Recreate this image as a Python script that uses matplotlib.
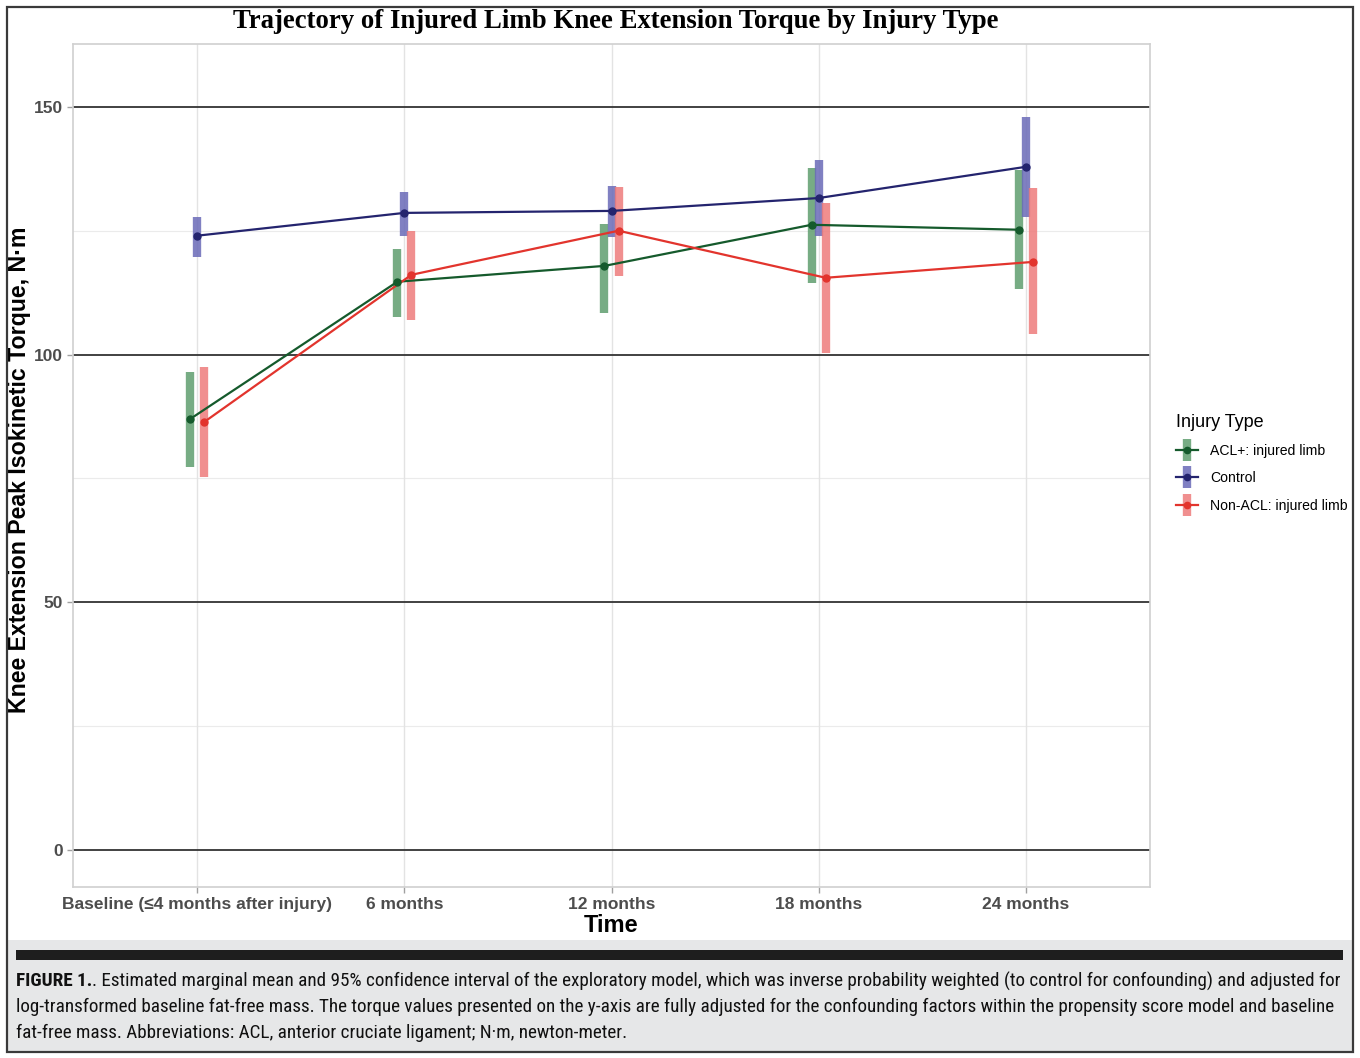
import matplotlib
matplotlib.use("Agg")
import matplotlib.pyplot as plt
from matplotlib.lines import Line2D
from matplotlib.patches import Rectangle
from matplotlib.legend_handler import HandlerTuple
from matplotlib import font_manager as fm
from matplotlib.font_manager import FontProperties
import numpy as np

# ---------------- data ----------------
time_labels = ["Baseline (\u22644 months after injury)", "6 months", "12 months", "18 months", "24 months"]
groups = ["ACL+: injured limb", "Control", "Non-ACL: injured limb"]

acl_mean = [87.0, 114.7, 117.9, 126.2, 125.2]
acl_low = [77.3, 107.6, 108.4, 114.5, 113.3]
acl_high = [96.5, 121.3, 126.4, 137.7, 137.3]

ctrl_mean = [124.0, 128.6, 129.0, 131.6, 137.9]
ctrl_low = [119.7, 124.0, 123.8, 124.0, 127.8]
ctrl_high = [127.8, 132.8, 134.1, 139.3, 148.0]

non_mean = [86.4, 116.1, 125.0, 115.5, 118.7]
non_low = [75.3, 107.0, 115.9, 100.3, 104.2]
non_high = [97.5, 125.0, 133.9, 130.6, 133.7]

y_ticks = [0, 50, 100, 150]

caption_bold = "FIGURE 1."
caption_lines = [
    ". Estimated marginal mean and 95% confidence interval of the exploratory model, which was inverse probability weighted (to control for confounding) and adjusted for",
    "log-transformed baseline fat-free mass. The torque values presented on the y-axis are fully adjusted for the confounding factors within the propensity score model and baseline",
    "fat-free mass. Abbreviations: ACL, anterior cruciate ligament; N\u00b7m, newton-meter.",
]

series = [
    (acl_mean, acl_low, acl_high, "#5f9e6e", "#155a2c", -0.034),
    (ctrl_mean, ctrl_low, ctrl_high, "#6a6ab8", "#24246e", 0.0),
    (non_mean, non_low, non_high, "#ee7b7b", "#e2342d", 0.034),
]

# ---------------- condensed font search ----------------
_stretch_map = {"ultra-condensed": 100, "extra-condensed": 200, "condensed": 300,
                "semi-condensed": 400, "normal": 500, "semi-expanded": 600,
                "expanded": 700, "extra-expanded": 800, "ultra-expanded": 900}
_weight_map = {"ultralight": 200, "light": 300, "normal": 400, "regular": 400, "book": 400,
               "medium": 500, "roman": 400, "semibold": 600, "demibold": 600, "demi": 600,
               "bold": 700, "heavy": 800, "extra bold": 800, "black": 900}


def _sv(f):
    s = f.stretch
    if isinstance(s, str):
        return _stretch_map.get(s, 500)
    return int(s)


def _wv(f):
    w = f.weight
    if isinstance(w, str):
        return _weight_map.get(w, 400)
    return int(w)


reg_path, bold_path = None, None
try:
    cands = [f for f in fm.fontManager.ttflist
             if f.style == "normal" and (_sv(f) < 500 or "Condensed" in f.name or "Narrow" in f.name)
             and "CJK" not in f.name and "Mono" not in f.name and "Serif" not in f.name]
    pref = ["Roboto Condensed", "Liberation Sans Narrow", "Open Sans Condensed", "Noto Sans",
            "DejaVu Sans", "Open Sans", "Lato", "Inter"]
    fams = sorted(set(f.name for f in cands),
                  key=lambda n: next((i for i, p in enumerate(pref) if n.startswith(p)), 99))
    if fams:
        fam = fams[0]
        ff = [f for f in cands if f.name == fam]
        reg = min(ff, key=lambda f: (abs(_wv(f) - 400), _sv(f)))
        bld = min(ff, key=lambda f: (abs(_wv(f) - 700), _sv(f)))
        reg_path, bold_path = reg.fname, bld.fname
except Exception:
    reg_path, bold_path = None, None


def cap_fp(bold, size):
    if bold and bold_path:
        return FontProperties(fname=bold_path, size=size)
    if (not bold) and reg_path:
        return FontProperties(fname=reg_path, size=size)
    return FontProperties(family="Liberation Sans", weight="bold" if bold else "normal", size=size)


# ---------------- figure ----------------
W, H = 1360, 1058
fig = plt.figure(figsize=(W / 100, H / 100), dpi=100)
fig.patch.set_facecolor("white")


def px(x0, y0, x1, y1):
    return [x0 / W, 1 - y1 / H, (x1 - x0) / W, (y1 - y0) / H]


fig.patches.append(Rectangle((7 / W, 1 - 1051 / H), (1353 - 7) / W, (1051 - 940) / H,
                             transform=fig.transFigure, facecolor="#e6e7e8", edgecolor="none", zorder=0))
fig.patches.append(Rectangle((16 / W, 1 - 960 / H), (1343 - 16) / W, 10 / H,
                             transform=fig.transFigure, facecolor="#1e1e1e", edgecolor="none", zorder=1))
fig.patches.append(Rectangle((7 / W, 1 - 1052 / H), (1353 - 7) / W, (1052 - 7) / H,
                             transform=fig.transFigure, facecolor="none", edgecolor="#3a3a3a", lw=1.6, zorder=5))

ax = fig.add_axes(px(73, 44, 1150, 887))
ax.set_facecolor("white")
xs = np.arange(1, len(time_labels) + 1)
ax.set_xlim(0.4, 5.6)
ax.set_ylim(-7.5, 162.7)

for v in [25, 75, 125]:
    ax.axhline(v, color="#ebebeb", lw=0.8, zorder=0)
for xv in xs:
    ax.axvline(xv, color="#e3e3e3", lw=1.0, zorder=0)
for v in y_ticks:
    ax.axhline(v, color="#333333", lw=1.3, zorder=1)

for mean, lo, hi, bar_c, line_c, off in series:
    xx = xs + off
    ax.vlines(xx, lo, hi, color=bar_c, lw=6, alpha=0.85, zorder=2)
    ax.plot(xx, mean, color=line_c, lw=1.6, zorder=3)
    ax.plot(xx, mean, "o", color=line_c, ms=5, zorder=4)

for s in ax.spines.values():
    s.set_color("#d0d0d0")
    s.set_linewidth(1.2)

ax.set_xticks(xs)
ax.set_xticklabels(time_labels, fontsize=12.5, fontweight="bold", color="#4d4d4d",
                   family=["Liberation Sans", "DejaVu Sans"])
ax.set_yticks(y_ticks)
ax.set_yticklabels([str(v) for v in y_ticks], fontsize=12.5, fontweight="bold", color="#4d4d4d",
                   family=["Liberation Sans", "DejaVu Sans"])
ax.tick_params(axis="both", length=4, color="#a0a0a0", width=1, pad=3)

ax.set_xlabel("Time", fontsize=17, fontweight="bold", family="Liberation Sans", labelpad=2, color="black")
ax.set_ylabel("Knee Extension Peak Isokinetic Torque, N\u00b7m", fontsize=16.7, fontweight="bold",
              family="Liberation Sans", color="black")
ax.yaxis.set_label_coords((31 - 73) / 1077, (887 - 470) / 843)

fig.text(616 / W, 1 - 21 / H, "Trajectory of Injured Limb Knee Extension Torque by Injury Type",
         ha="center", va="center", fontsize=19.3, fontweight="bold", family="Liberation Serif")

# legend
handles = []
for mean, lo, hi, bar_c, line_c, off in series:
    bar = Line2D([], [], color=bar_c, marker="|", ms=16, mew=6, lw=0, alpha=0.85)
    ln = Line2D([], [], color=line_c, lw=1.6, marker="o", ms=4.5)
    handles.append((bar, ln))
leg = fig.legend(handles, groups, handler_map={tuple: HandlerTuple(ndivide=1, pad=0)},
                 loc="upper left", bbox_to_anchor=(1163 / W, 1 - 401 / H), frameon=False,
                 title="Injury Type", title_fontsize=13, handlelength=1.6,
                 handletextpad=0.85, labelspacing=0.95,
                 prop={"family": "Liberation Sans", "size": 10.1})
leg.get_title().set_family("Liberation Sans")
leg._legend_box.align = "left"

# caption
fig.canvas.draw()
renderer = fig.canvas.get_renderer()
target = 1343 - 16
base = 13.5


def width_of(parts, size):
    tot = 0
    for txt, bold in parts:
        t = fig.text(0, 0, txt, fontproperties=cap_fp(bold, size))
        tot += t.get_window_extent(renderer).width
        t.remove()
    return tot


w1 = width_of([(caption_bold, True), (caption_lines[0], False)], base)
w2 = width_of([(caption_lines[1], False)], base)
size = base * target / max(w1, w2)
size = min(size, 15.0)

ys = [981, 1007, 1033]
t0 = fig.text(16 / W, 1 - ys[0] / H, caption_bold, fontproperties=cap_fp(True, size),
              va="center", ha="left", color="#111111")
bb = t0.get_window_extent(renderer)
fig.text(bb.x1 / W, 1 - ys[0] / H, caption_lines[0], fontproperties=cap_fp(False, size),
         va="center", ha="left", color="#111111")
for yy, line in zip(ys[1:], caption_lines[1:]):
    fig.text(16 / W, 1 - yy / H, line, fontproperties=cap_fp(False, size),
             va="center", ha="left", color="#111111")

fig.savefig("out.png", dpi=100)
